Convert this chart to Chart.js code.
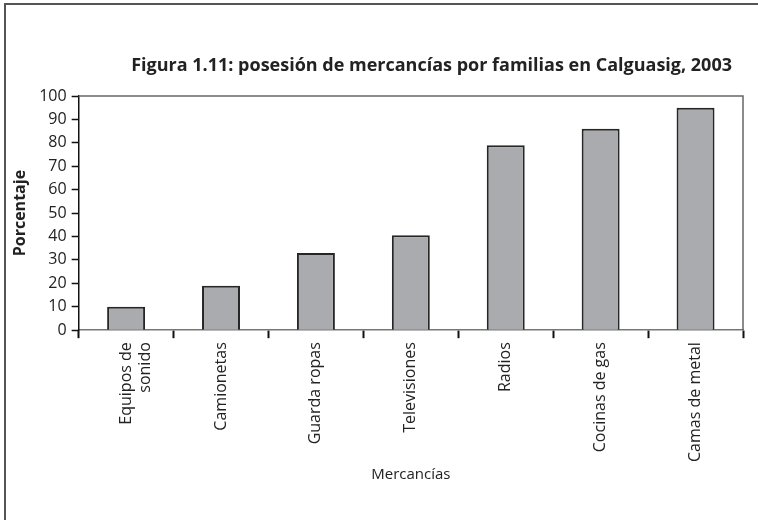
<!DOCTYPE html>
<html>
<head>
<meta charset="utf-8">
<script src="https://cdn.jsdelivr.net/npm/chart.js@4"></script>
<style>
  body { margin: 0; background: #fff; }
  #wrap { position: absolute; left: 0; top: 0; width: 758px; height: 520px; }
  #frame { position: absolute; left: 4px; top: 3px; width: 760px; height: 530px;
           border-left: 2px solid #555; border-top: 2px solid #555; }
</style>
</head>
<body>
<div id="wrap">
  <div id="frame"></div>
  <canvas id="chart" width="758" height="520"></canvas>
</div>
<script>
const categories = [['Equipos de', 'sonido'], 'Camionetas', 'Guarda ropas', 'Televisiones', 'Radios', 'Cocinas de gas', 'Camas de metal'];
const percentages = [10, 19, 33, 40.5, 79, 86, 95];
const yTicks = [0, 10, 20, 30, 40, 50, 60, 70, 80, 90, 100];
const titleText = 'Figura 1.11: posesión de mercancías por familias en Calguasig, 2003';

const fontFamily = '"Open Sans", "Noto Sans", sans-serif';

// top + right lines of the plot box, and the title sitting over it
const plotBox = {
    id: 'plotBox',
    afterDraw(chart) {
        const a = chart.chartArea;
        const ctx = chart.ctx;
        ctx.save();
        ctx.strokeStyle = '#666';
        ctx.lineWidth = 1.5;
        ctx.beginPath();
        ctx.moveTo(a.left, a.top);
        ctx.lineTo(a.right, a.top);
        ctx.lineTo(a.right, a.bottom);
        ctx.stroke();

        ctx.fillStyle = '#222';
        ctx.font = 'bold 18px ' + fontFamily;
        ctx.textAlign = 'right';
        ctx.textBaseline = 'middle';
        ctx.fillText(titleText, a.right - 11, a.top - 30);
        ctx.restore();
    }
};

const ctx = document.getElementById('chart').getContext('2d');
new Chart(ctx, {
    type: 'bar',
    data: {
        labels: categories,
        datasets: [{
            data: percentages,
            backgroundColor: '#aaabae',
            borderColor: '#262626',
            borderWidth: 2,
            barPercentage: 0.4,
            categoryPercentage: 1.0
        }]
    },
    options: {
        responsive: false,
        animation: false,
        layout: { padding: { left: 7, right: 15, top: 96, bottom: 32 } },
        plugins: {
            legend: { display: false },
            tooltip: { enabled: false },
            title: { display: false }
        },
        scales: {
            x: {
                grid: {
                    display: true,
                    drawOnChartArea: false,
                    offset: true,
                    tickLength: 8,
                    tickColor: '#111',
                    tickWidth: 2
                },
                border: { color: '#777', width: 1.5 },
                ticks: {
                    color: '#222',
                    font: { family: fontFamily, size: 16 },
                    minRotation: 90,
                    maxRotation: 90,
                    padding: 4
                },
                title: {
                    display: true,
                    text: 'Mercancías',
                    color: '#222',
                    font: { family: fontFamily, size: 15 },
                    padding: { top: 0 }
                }
            },
            y: {
                min: 0,
                max: 100,
                afterBuildTicks(axis) { axis.ticks = yTicks.map(v => ({ value: v })); },
                grid: {
                    display: true,
                    drawOnChartArea: false,
                    tickLength: 7,
                    tickColor: '#111',
                    tickWidth: 1.5
                },
                border: { color: '#111', width: 1.5 },
                ticks: {
                    color: '#222',
                    font: { family: fontFamily, size: 16 },
                    padding: 5
                },
                title: {
                    display: true,
                    text: 'Porcentaje',
                    color: '#222',
                    font: { family: fontFamily, size: 16, weight: 'bold' },
                    padding: { bottom: 4 }
                }
            }
        }
    },
    plugins: [plotBox]
});
</script>
</body>
</html>
